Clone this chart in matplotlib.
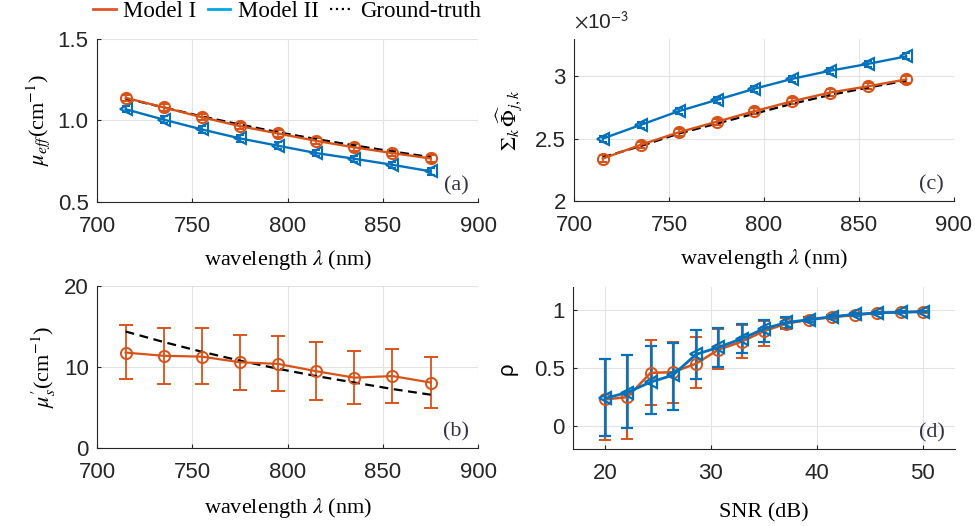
import matplotlib
matplotlib.use("Agg")
import matplotlib.pyplot as plt
from matplotlib.lines import Line2D

plt.rcParams['mathtext.fontset'] = 'stix'
plt.rcParams['font.family'] = ['Liberation Sans', 'DejaVu Sans']

# Dados
wavelength = [715, 735, 755, 775, 795, 815, 835, 855, 875]

# (a) mu_eff
mueff_m1 = [1.139, 1.08, 1.02, 0.965, 0.92, 0.875, 0.835, 0.80, 0.767]
mueff_m2 = [1.069, 1.005, 0.945, 0.89, 0.845, 0.80, 0.765, 0.728, 0.688]
mueff_gt = [1.135, 1.08, 1.025, 0.975, 0.928, 0.886, 0.847, 0.81, 0.775]
mueff_err = [0.02, 0.02, 0.02, 0.02, 0.02, 0.02, 0.02, 0.02, 0.02]

# (b) mu_s'
mus_m1 = [11.8, 11.4, 11.3, 10.6, 10.4, 9.5, 8.7, 8.9, 8.1]
mus_top = [15.2, 14.8, 14.8, 14.0, 13.9, 13.1, 12.0, 12.3, 11.2]
mus_bot = [8.5, 7.9, 7.9, 7.2, 7.0, 6.0, 5.4, 5.6, 5.0]
mus_gt = [14.4, 13.1, 11.9, 10.8, 9.8, 8.9, 8.1, 7.3, 6.6]

# (c) soma de Phi (x 1e-3)
phi_m1 = [2.34, 2.45, 2.55, 2.635, 2.72, 2.80, 2.87, 2.92, 2.975]
phi_m2 = [2.50, 2.61, 2.72, 2.81, 2.90, 2.98, 3.045, 3.10, 3.16]
phi_gt = [2.35, 2.44, 2.54, 2.62, 2.70, 2.78, 2.85, 2.91, 2.965]
phi_err = [0.025, 0.025, 0.025, 0.025, 0.025, 0.025, 0.025, 0.025, 0.025]

# (d) rho vs SNR
snr = [20, 22.1, 24.3, 26.4, 28.6, 30.7, 32.9, 35, 37.1, 39.3, 41.4, 43.6, 45.7, 47.9, 50]
rho_m1 = [0.23, 0.25, 0.46, 0.465, 0.54, 0.66, 0.73, 0.82, 0.885, 0.92, 0.94, 0.96, 0.977, 0.983, 0.988]
rho_m1_top = [0.58, 0.61, 0.74, 0.73, 0.77, 0.84, 0.87, 0.91, 0.93, 0.94, 0.955, 0.97, 0.985, 0.99, 0.995]
rho_m1_bot = [-0.12, -0.11, 0.185, 0.20, 0.33, 0.49, 0.59, 0.69, 0.84, 0.90, 0.925, 0.95, 0.97, 0.976, 0.981]
rho_m2 = [0.24, 0.29, 0.38, 0.44, 0.62, 0.68, 0.755, 0.84, 0.895, 0.92, 0.945, 0.965, 0.978, 0.984, 0.989]
rho_m2_top = [0.58, 0.61, 0.69, 0.72, 0.83, 0.85, 0.88, 0.92, 0.945, 0.945, 0.96, 0.975, 0.986, 0.99, 0.995]
rho_m2_bot = [-0.085, -0.02, 0.10, 0.14, 0.41, 0.51, 0.63, 0.73, 0.85, 0.90, 0.93, 0.955, 0.97, 0.978, 0.983]

orange = '#D95319'
blue = '#0072BD'
serif = ['Liberation Serif', 'DejaVu Serif']

fig = plt.figure(figsize=(9.75, 5.26), dpi=100)
ax_a = fig.add_axes([0.0995, 0.616, 0.391, 0.31])
ax_c = fig.add_axes([0.589, 0.618, 0.389, 0.308])
ax_b = fig.add_axes([0.0995, 0.148, 0.391, 0.308])
ax_d = fig.add_axes([0.588, 0.146, 0.391, 0.308])


def estilo(ax, letra):
    ax.grid(True, color='#e3e3e3', linewidth=0.8)
    ax.set_axisbelow(True)
    for s in ['top', 'right']:
        ax.spines[s].set_visible(False)
    for s in ['left', 'bottom']:
        ax.spines[s].set_color('#262626')
        ax.spines[s].set_linewidth(0.8)
    ax.tick_params(direction='in', length=3, labelsize=16, colors='#262626')
    ax.tick_params(axis='x', pad=10)
    ax.tick_params(axis='y', pad=6)
    ax.text(0.975, 0.04, letra, transform=ax.transAxes, ha='right', va='bottom',
            fontsize=16, family=serif, color='#333344')


ekw = dict(capsize=3, elinewidth=1.2, linewidth=1.7, markersize=8,
           markerfacecolor='none', markeredgewidth=1.5)

# (a)
ax_a.errorbar(wavelength, mueff_m2, yerr=mueff_err, color=blue, marker='<', **ekw)
ax_a.errorbar(wavelength, mueff_m1, yerr=mueff_err, color=orange, marker='o', **ekw)
ax_a.plot(wavelength, mueff_gt, '--', color='black', linewidth=1.6, dashes=(4, 2))
ax_a.set_xlim(700, 900)
ax_a.set_ylim(0.5, 1.5)
ax_a.set_xticks([700, 750, 800, 850, 900])
ax_a.set_yticks([0.5, 1.0, 1.5])
ax_a.set_yticklabels(['0.5', '1.0', '1.5'])
ax_a.set_xlabel(r'wavelength $\lambda$ (nm)', family=serif, fontsize=16, labelpad=8)
ax_a.set_ylabel(r'$\mu_{eff}$(cm$^{-1}$)', family=serif, fontsize=16)
estilo(ax_a, '(a)')

# (b)
err_b = [[m - b for m, b in zip(mus_m1, mus_bot)], [t - m for m, t in zip(mus_m1, mus_top)]]
ax_b.errorbar(wavelength, mus_m1, yerr=err_b, color=orange, marker='o',
              capsize=5, elinewidth=1.3, linewidth=1.6, markersize=8,
              markerfacecolor='none', markeredgewidth=1.4)
ax_b.plot(wavelength, mus_gt, '--', color='black', linewidth=1.6, dashes=(4, 2.5))
ax_b.set_xlim(700, 900)
ax_b.set_ylim(0, 20)
ax_b.set_xticks([700, 750, 800, 850, 900])
ax_b.set_yticks([0, 10, 20])
ax_b.set_xlabel(r'wavelength $\lambda$ (nm)', family=serif, fontsize=16, labelpad=9)
ax_b.set_ylabel(r"$\mu_s'$(cm$^{-1}$)", family=serif, fontsize=16)
estilo(ax_b, '(b)')

# (c)
ax_c.errorbar(wavelength, phi_m2, yerr=phi_err, color=blue, marker='<', **ekw)
ax_c.errorbar(wavelength, phi_m1, yerr=phi_err, color=orange, marker='o', **ekw)
ax_c.plot(wavelength, phi_gt, '--', color='black', linewidth=1.6, dashes=(4, 2))
ax_c.set_xlim(700, 900)
ax_c.set_ylim(2, 3.3)
ax_c.set_xticks([700, 750, 800, 850, 900])
ax_c.set_yticks([2, 2.5, 3])
ax_c.set_yticklabels(['2', '2.5', '3'])
ax_c.set_xlabel(r'wavelength $\lambda$ (nm)', family=serif, fontsize=16, labelpad=8)
ax_c.set_ylabel(r'$\Sigma_k\,\widehat{\Phi}_{j,k}$', family=serif, fontsize=16, labelpad=8)
ax_c.text(0.0, 1.04, r'$\times$10$^{\mathsf{-3}}$', transform=ax_c.transAxes,
          fontsize=15, color='#262626', ha='left', va='bottom')
estilo(ax_c, '(c)')

# (d)
err_d1 = [[m - b for m, b in zip(rho_m1, rho_m1_bot)], [t - m for m, t in zip(rho_m1, rho_m1_top)]]
err_d2 = [[m - b for m, b in zip(rho_m2, rho_m2_bot)], [t - m for m, t in zip(rho_m2, rho_m2_top)]]
ax_d.errorbar(snr, rho_m1, yerr=err_d1, color=orange, marker='o', capsize=4,
              elinewidth=1.6, linewidth=1.8, markersize=8, markerfacecolor='none',
              markeredgewidth=1.4)
ax_d.errorbar(snr, rho_m2, yerr=err_d2, color=blue, marker='<', capsize=4,
              elinewidth=1.8, linewidth=2.0, markersize=8, markerfacecolor='none',
              markeredgewidth=1.6)
ax_d.set_xlim(17, 53)
ax_d.set_ylim(-0.2, 1.2)
ax_d.set_xticks([20, 30, 40, 50])
ax_d.set_yticks([0, 0.5, 1])
ax_d.set_yticklabels(['0', '0.5', '1'])
ax_d.set_xlabel('SNR (dB)', family=serif, fontsize=16, labelpad=14)
ax_d.set_ylabel('ρ', fontsize=16, labelpad=12)
estilo(ax_d, '(d)')

# Legenda
handles = [Line2D([], [], color='#E2522B', linewidth=2),
           Line2D([], [], color='#00A8E8', linewidth=2),
           Line2D([], [], color='black', linewidth=1.6, linestyle=':')]
fig.legend(handles, ['Model I', 'Model II', 'Ground-truth'], loc='upper left',
           bbox_to_anchor=(0.095, 0.998), ncol=3, frameon=False, handlelength=1.0,
           handletextpad=0.32, columnspacing=0.5, borderpad=0, borderaxespad=0,
           prop={'family': serif, 'size': 16.5})

fig.savefig('out.png', dpi=100)
